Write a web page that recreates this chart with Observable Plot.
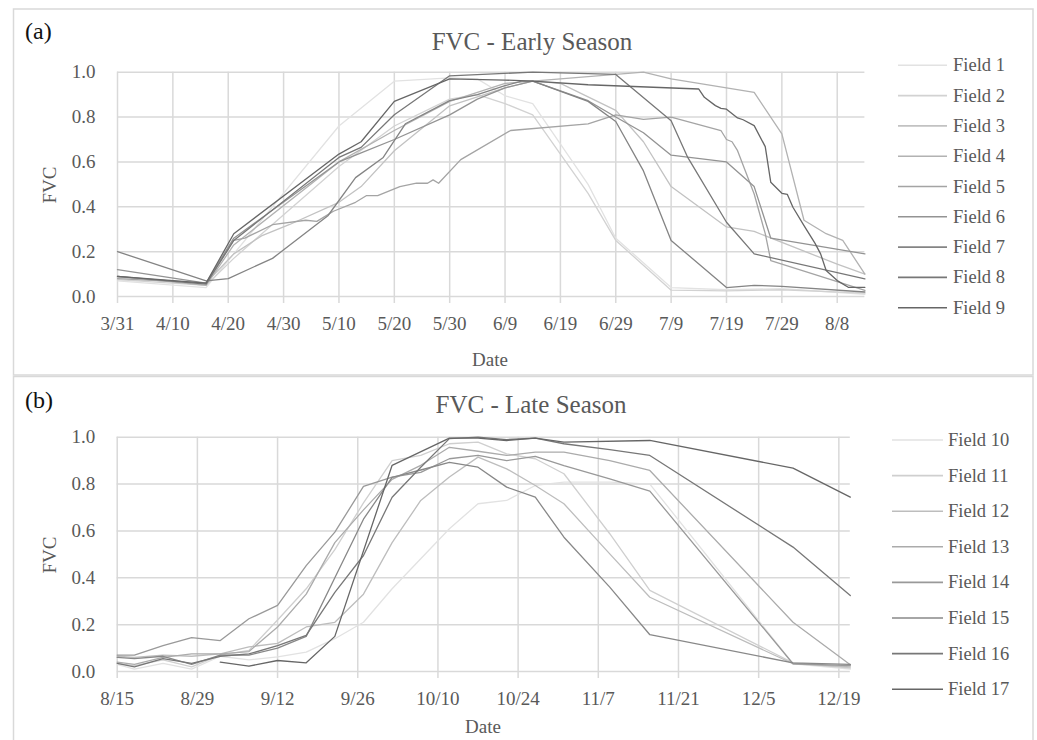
<!DOCTYPE html>
<html>
<head>
<meta charset="utf-8">
<script src="https://cdn.jsdelivr.net/npm/d3@7"></script>
<script src="https://cdn.jsdelivr.net/npm/@observablehq/plot@0.6"></script>
<style>
  body { margin: 0; background: #fff; }
  #wrap { position: relative; width: 1037px; height: 740px; overflow: hidden; background: #fff; }
  #wrap svg.panel { position: absolute; left: 0; }
  #overlay { position: absolute; left: 0; top: 0; pointer-events: none; }
</style>
</head>
<body>
<div id="wrap"></div>
<script>
// ---------------- DATA ----------------
const fieldsEarly = ["Field 1","Field 2","Field 3","Field 4","Field 5","Field 6","Field 7","Field 8","Field 9"];
const fieldsLate  = ["Field 10","Field 11","Field 12","Field 13","Field 14","Field 15","Field 16","Field 17"];

const yTickValues = [0, 0.2, 0.4, 0.6, 0.8, 1.0];
const xTickLabelsEarly = ["3/31","4/10","4/20","4/30","5/10","5/20","5/30","6/9","6/19","6/29","7/9","7/19","7/29","8/8"];
const xTickLabelsLate  = ["8/15","8/29","9/12","9/26","10/10","10/24","11/7","11/21","12/5","12/19"];
const xDomainEarly = ["3/31","8/13"];
const xDomainLate  = ["8/15","12/21"];

const field1 = [["3/31",.07],["4/16",.04],["5/10",.76],["5/20",.96],["5/30",.975],["6/4",.97],["6/9",.895],["6/14",.86],["6/24",.50],["6/29",.26],["7/9",.04],["7/19",.03],["7/29",.035],["8/13",.01]];
const field2 = [["3/31",.075],["4/16",.05],["4/21",.17],["5/10",.58],["5/20",.76],["5/30",.88],["6/4",.90],["6/9",.86],["6/14",.81],["6/24",.46],["6/29",.25],["7/9",.028],["7/19",.025],["7/29",.03],["8/13",.015]];
const field3 = [["3/31",.085],["4/16",.06],["4/21",.19],["4/26",.27],["5/1",.32],["5/10",.42],["5/14",.49],["5/20",.65],["5/30",.85],["6/9",.93],["6/14",.96],["6/19",.95],["6/29",.83],["7/4",.69],["7/9",.49],["7/19",.31],["7/24",.29],["8/8",.144],["8/13",.10]];
const field4 = [["3/31",.09],["4/16",.05],["4/21",.23],["5/10",.60],["5/20",.74],["5/30",.87],["6/9",.95],["6/19",.97],["6/29",.99],["7/4",1.0],["7/9",.97],["7/24",.91],["7/29",.725],["8/2",.34],["8/4",.31],["8/6",.28],["8/9",.25],["8/13",.10]];
const field5 = [["3/31",.08],["4/16",.06],["4/21",.25],["4/23",.26],["4/28",.32],["5/4",.34],["5/6",.335],["5/9",.38],["5/13",.42],["5/15",.45],["5/17",.45],["5/21",.49],["5/24",.505],["5/26",.505],["5/27",.52],["5/28",.505],["6/1",.61],["6/10",.74],["6/24",.77],["6/29",.81],["7/4",.79],["7/9",.80],["7/18",.74],["7/19",.70],["7/20",.69],["7/21",.65],["7/24",.457],["7/26",.28],["7/27",.16],["8/13",.027]];
const field6 = [["3/31",.12],["4/16",.06],["4/21",.26],["5/10",.60],["5/14",.64],["5/20",.70],["5/30",.81],["6/4",.88],["6/9",.93],["6/14",.96],["6/24",.873],["6/29",.80],["7/4",.73],["7/9",.63],["7/19",.60],["7/24",.49],["7/27",.26],["8/13",.19]];
const field7 = [["3/31",.20],["4/16",.07],["4/20",.08],["4/28",.17],["5/8",.36],["5/13",.53],["5/18",.62],["5/22",.77],["5/30",.873],["6/4",.90],["6/9",.94],["6/12",.96],["6/14",.96],["6/24",.87],["6/29",.78],["7/4",.56],["7/9",.25],["7/19",.04],["7/24",.05],["7/29",.045],["8/13",.02]];
const field8 = [["3/31",.09],["4/16",.055],["4/21",.25],["5/10",.62],["5/14",.665],["5/20",.81],["5/30",.984],["6/14",1.0],["6/29",.99],["7/9",.784],["7/12",.62],["7/19",.331],["7/24",.19],["8/13",.079]];
const field9 = [["3/31",.09],["4/16",.06],["4/21",.28],["5/10",.635],["5/14",.69],["5/20",.87],["5/30",.97],["6/9",.965],["6/14",.96],["6/24",.944],["7/14",.925],["7/15",.888],["7/17",.851],["7/18",.839],["7/19",.835],["7/21",.796],["7/22",.788],["7/24",.762],["7/26",.668],["7/27",.509],["7/29",.46],["7/30",.455],["7/31",.398],["8/2",.316],["8/4",.237],["8/5",.19],["8/6",.116],["8/8",.071],["8/10",.041],["8/13",.041]];

const field10 = [["8/15",.03],["8/18",.01],["8/23",.035],["8/28",.01],["9/2",.065],["9/7",.05],["9/12",.062],["9/17",.083],["9/22",.14],["9/27",.21],["10/2",.353],["10/7",.481],["10/12",.609],["10/17",.716],["10/22",.73],["10/27",.794],["11/1",.808],["11/9",.808],["11/16",.80],["12/11",.033],["12/21",.01]];
const field11 = [["8/15",.035],["8/18",.025],["8/23",.05],["8/28",.02],["9/2",.07],["9/7",.09],["9/12",.22],["9/17",.353],["9/22",.52],["9/27",.72],["10/2",.90],["10/7",.922],["10/12",.972],["10/17",.979],["10/22",.929],["10/27",.908],["11/1",.844],["11/9",.588],["11/16",.346],["12/11",.037],["12/21",.015]];
const field12 = [["8/15",.065],["8/18",.06],["8/23",.07],["8/28",.065],["9/2",.075],["9/7",.105],["9/12",.12],["9/17",.19],["9/22",.21],["9/27",.33],["10/2",.55],["10/7",.73],["10/12",.83],["10/17",.915],["10/22",.865],["10/27",.794],["11/1",.716],["11/9",.502],["11/16",.317],["12/11",.033],["12/21",.02]];
const field13 = [["8/15",.04],["8/18",.03],["8/23",.06],["8/28",.075],["9/2",.075],["9/7",.085],["9/12",.19],["9/17",.33],["9/22",.55],["9/27",.69],["10/2",.82],["10/7",.88],["10/12",.957],["10/17",.94],["10/22",.922],["10/27",.936],["11/1",.936],["11/9",.90],["11/16",.858],["12/11",.21],["12/21",.029]];
const field14 = [["8/15",.07],["8/18",.07],["8/23",.11],["8/28",.145],["9/2",.132],["9/7",.225],["9/12",.282],["9/17",.452],["9/22",.595],["9/27",.79],["10/2",.83],["10/7",.85],["10/12",.908],["10/17",.922],["10/22",.90],["10/27",.918],["11/1",.879],["11/9",.822],["11/16",.77],["12/11",.033],["12/21",.025]];
const field15 = [["8/15",.06],["8/18",.055],["8/23",.065],["8/28",.03],["9/2",.07],["9/7",.07],["9/12",.10],["9/17",.15],["9/22",.40],["9/27",.65],["10/2",.829],["10/7",.86],["10/12",.893],["10/17",.872],["10/22",.787],["10/27",.744],["11/1",.573],["11/9",.36],["11/16",.157],["12/11",.037],["12/21",.03]];
const field16 = [["8/15",.035],["8/18",.02],["8/23",.055],["8/28",.035],["9/2",.065],["9/7",.075],["9/12",.11],["9/17",.154],["9/22",.338],["9/27",.495],["10/2",.744],["10/7",.872],["10/12",.994],["10/17",1.0],["10/22",.99],["10/27",.996],["11/1",.972],["11/9",.947],["11/16",.922],["12/11",.531],["12/21",.324]];
const field17 = [["9/2",.04],["9/7",.023],["9/12",.047],["9/17",.037],["9/22",.15],["10/2",.88],["10/12",.996],["10/17",.996],["10/22",.986],["10/27",.996],["11/1",.979],["11/16",.986],["12/11",.868],["12/21",.744]];

const seriesEarly = [field1, field2, field3, field4, field5, field6, field7, field8, field9];
const seriesLate  = [field10, field11, field12, field13, field14, field15, field16, field17];

const colorsEarly = ["#e2e2e2","#d2d2d2","#c2c2c2","#b2b2b2","#a4a4a4","#939393","#848484","#777777","#666666"];
const colorsLate  = ["#e2e2e2","#cfcfcf","#bdbdbd","#ababab","#999999","#888888","#777777","#666666"];

// ---------------- BUILD ----------------
const toDate = md => { const [m, d] = md.split("/").map(Number); return new Date(Date.UTC(2021, m - 1, d)); };
const rows = (fields, series) => fields.flatMap((f, i) => series[i].map(([d, v]) => ({field: f, date: toDate(d), fvc: v})));

const W = 1037;
const FONT = "Liberation Serif";
const TXT = "#595959";
const GRID = "#d9d9d9";

function panel({data, fields, colors, xDomain, xTicks, height, ml, mr, mt, mb}) {
  const ticks = xTicks.map(toDate);
  return Plot.plot({
    width: W, height,
    marginLeft: ml, marginRight: mr, marginTop: mt, marginBottom: mb,
    style: {fontFamily: FONT, fontSize: "19px", background: "transparent", color: TXT},
    x: {type: "utc", domain: xDomain.map(toDate)},
    y: {domain: [0, 1]},
    color: {domain: fields, range: colors},
    marks: [
      Plot.gridY(yTickValues, {stroke: GRID, strokeOpacity: 1, strokeWidth: 1.5}),
      Plot.gridX(ticks, {stroke: GRID, strokeOpacity: 1, strokeWidth: 1.5}),
      Plot.axisY(yTickValues, {tickSize: 0, tickPadding: 22, tickFormat: d3.format(".1f"), fill: TXT, label: null, fontSize: 19}),
      Plot.axisX(ticks, {tickSize: 7, tickPadding: 13, stroke: GRID, strokeWidth: 1.5, strokeOpacity: 1, tickFormat: d3.utcFormat("%-m/%-d"), fill: TXT, label: null, fontSize: 19}),
      Plot.lineY(data, {x: "date", y: "fvc", z: "field", stroke: "field", strokeWidth: 1.3})
    ]
  });
}

const wrap = document.getElementById("wrap");

const plotA = panel({data: rows(fieldsEarly, seriesEarly), fields: fieldsEarly, colors: colorsEarly,
  xDomain: xDomainEarly, xTicks: xTickLabelsEarly, height: 376, ml: 117, mr: 172.6, mt: 71.7, mb: 80});
plotA.classList.add("panel"); plotA.style.top = "0px";
wrap.appendChild(plotA);

const plotB = panel({data: rows(fieldsLate, seriesLate), fields: fieldsLate, colors: colorsLate,
  xDomain: xDomainLate, xTicks: xTickLabelsLate, height: 364, ml: 116.7, mr: 187.2, mt: 60.7, mb: 69});
plotB.classList.add("panel"); plotB.style.top = "376px";
wrap.appendChild(plotB);

// ---------------- OVERLAY: frames, titles, axis titles, legends ----------------
const svg = d3.select(wrap).append("svg").attr("id", "overlay").attr("width", W).attr("height", 740)
  .style("font-family", FONT);

function decorate({top, bottom, tag, tagBase, title, titleX, titleBase, fvcY, dateX, dateBase, fields, colors, legX1, legX2, legTextX, legY0, legStep}) {
  svg.append("rect").attr("x", 13.5).attr("y", top).attr("width", 1019.5).attr("height", bottom - top)
    .attr("fill", "none").attr("stroke", GRID).attr("stroke-width", 1.5);
  svg.append("text").attr("x", 25).attr("y", tagBase).attr("font-size", 24).attr("fill", "#111").text(tag);
  svg.append("text").attr("x", titleX).attr("y", titleBase).attr("text-anchor", "middle")
    .attr("font-size", 25).attr("fill", TXT).text(title);
  svg.append("text").attr("transform", `translate(56,${fvcY}) rotate(-90)`).attr("text-anchor", "middle")
    .attr("font-size", 19).attr("fill", TXT).text("FVC");
  svg.append("text").attr("x", dateX).attr("y", dateBase).attr("text-anchor", "middle")
    .attr("font-size", 19).attr("fill", TXT).text("Date");
  const g = svg.append("g");
  fields.forEach((f, i) => {
    const y = legY0 + i * legStep;
    g.append("line").attr("x1", legX1).attr("x2", legX2).attr("y1", y).attr("y2", y)
      .attr("stroke", colors[i]).attr("stroke-width", 1.6);
    g.append("text").attr("x", legTextX).attr("y", y + 6).attr("font-size", 18.5).attr("fill", TXT).text(f);
  });
}

decorate({top: 9, bottom: 375, tag: "(a)", tagBase: 39, title: "FVC - Early Season", titleX: 532, titleBase: 50,
  fvcY: 185, dateX: 490, dateBase: 366, fields: fieldsEarly, colors: colorsEarly,
  legX1: 898, legX2: 947, legTextX: 953, legY0: 65.3, legStep: 30.3});
decorate({top: 376.5, bottom: 760, tag: "(b)", tagBase: 408, title: "FVC - Late Season", titleX: 531, titleBase: 413,
  fvcY: 555, dateX: 483, dateBase: 733, fields: fieldsLate, colors: colorsLate,
  legX1: 892, legX2: 943, legTextX: 948, legY0: 440, legStep: 35.6});
</script>
</body>
</html>
